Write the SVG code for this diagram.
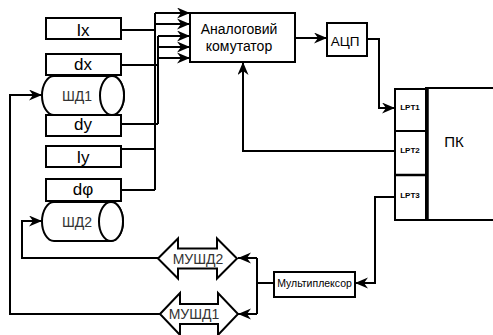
<svg xmlns="http://www.w3.org/2000/svg" width="493" height="335" viewBox="0 0 493 335">
<defs>
<style>
.box{fill:#fff;stroke:#000;stroke-width:2}
.ln{fill:none;stroke:#000;stroke-width:2}
.lbl{font-family:"Liberation Sans",Arial,sans-serif;font-size:17px;fill:#000;text-anchor:middle}
.txt{font-family:"Liberation Sans",Arial,sans-serif;fill:#000;text-anchor:middle}
.gray{fill:#333}
.lpt{font-family:"Liberation Sans",Arial,sans-serif;font-size:8px;font-weight:bold;fill:#000;text-anchor:middle}
</style>
<marker id="ah" markerUnits="userSpaceOnUse" markerWidth="14" markerHeight="12" refX="13" refY="5.5" orient="auto">
<path d="M0,0 L13,5.5 L0,11 L4,5.5 z" fill="#000"/>
</marker>
</defs>
<rect width="493" height="335" fill="#fff"/>

<g id="connectors">
<!-- inputs to bus -->
<polyline class="ln" points="121,30 155,30"/>
<polyline class="ln" points="121,65 158,65"/>
<polyline class="ln" points="121,124 158,124"/>
<polyline class="ln" points="121,149 155,149"/>
<polyline class="ln" points="121,190 155,190"/>
<line class="ln" x1="155" y1="13" x2="155" y2="190"/>
<line class="ln" x1="158" y1="36" x2="158" y2="124"/>
<line class="ln" x1="155" y1="13" x2="190" y2="13" marker-end="url(#ah)"/>
<line class="ln" x1="155" y1="24" x2="190" y2="24" marker-end="url(#ah)"/>
<line class="ln" x1="158" y1="36" x2="190" y2="36" marker-end="url(#ah)"/>
<line class="ln" x1="158" y1="47" x2="190" y2="47" marker-end="url(#ah)"/>
<line class="ln" x1="158" y1="58" x2="190" y2="58" marker-end="url(#ah)"/>
<!-- comm to ADC -->
<line class="ln" x1="295" y1="38" x2="327" y2="38" marker-end="url(#ah)"/>
<!-- ADC to LPT1 -->
<polyline class="ln" points="367,39 379,39 379,108 395,108" marker-end="url(#ah)"/>
<!-- LPT2 to comm -->
<polyline class="ln" points="395,151 243,151 243,62" marker-end="url(#ah)"/>
<!-- LPT3 to mux -->
<polyline class="ln" points="395,197 375,197 375,283 355,283" marker-end="url(#ah)"/>
<!-- mux to MUShD -->
<polyline class="ln" points="274,283 257,283"/>
<line class="ln" x1="257" y1="258" x2="257" y2="314"/>
<line class="ln" x1="257" y1="258" x2="238" y2="258" marker-end="url(#ah)"/>
<line class="ln" x1="257" y1="314" x2="238" y2="314" marker-end="url(#ah)"/>
<!-- feedback to stepper motors -->
<polyline class="ln" points="158,258 22,258 22,221 42,221" marker-end="url(#ah)"/>
<polyline class="ln" points="160,314 10,314 10,95 42,95" marker-end="url(#ah)"/>
</g>

<g id="shd1">
<path class="box" d="M54,76 L112,76 A12,19.5 0 0 1 112,115 L54,115 A12,19.5 0 0 1 54,76 z"/>
<ellipse class="box" cx="112" cy="95.5" rx="12" ry="19.5"/>
<text class="txt gray" x="77" y="101" font-size="14">ШД1</text>
</g>
<g id="shd2">
<path class="box" d="M54,202 L111,202 A12,19.5 0 0 1 111,241 L54,241 A12,19.5 0 0 1 54,202 z"/>
<ellipse class="box" cx="111" cy="221.5" rx="12" ry="19.5"/>
<text class="txt gray" x="77" y="227" font-size="14">ШД2</text>
</g>

<g id="ix"><rect class="box" x="46" y="18" width="75" height="21"/><text class="lbl" x="83" y="36">Ix</text></g>
<g id="dx"><rect class="box" x="46" y="54" width="75" height="21"/><text class="lbl" x="83" y="70">dx</text></g>
<g id="dy"><rect class="box" x="46" y="115" width="75" height="21"/><text class="lbl" x="83" y="130">dy</text></g>
<g id="iy"><rect class="box" x="46" y="146" width="75" height="21"/><text class="lbl" x="83" y="163">Iy</text></g>
<g id="dphi"><rect class="box" x="46" y="179" width="75" height="22"/><text class="lbl" x="83" y="195">dφ</text></g>

<g id="comm">
<rect class="box" x="190" y="13" width="105" height="49"/>
<text class="txt" x="239" y="34" font-size="14">Аналоговий</text>
<text class="txt" x="239" y="51" font-size="14">комутатор</text>
</g>

<g id="adc">
<rect class="box" x="327" y="23" width="40" height="33"/>
<text class="txt" x="345" y="46" font-size="13.5">АЦП</text>
</g>

<g id="pc">
<line class="ln" x1="425" y1="88" x2="493" y2="88"/>
<line class="ln" x1="425" y1="220" x2="493" y2="220"/>
<rect class="box" x="395" y="89" width="31" height="131"/>
<line x1="395" y1="131" x2="426" y2="131" stroke="#000" stroke-width="2"/>
<line x1="395" y1="175" x2="426" y2="175" stroke="#000" stroke-width="2.5"/>
<line x1="427" y1="88" x2="427" y2="221" stroke="#000" stroke-width="3.5"/>
<text class="lpt" x="410" y="110">LPT1</text>
<text class="lpt" x="410" y="153">LPT2</text>
<text class="lpt" x="410" y="198">LPT3</text>
<text class="txt" x="454" y="147" font-size="15">ПК</text>
</g>

<g id="mux">
<rect class="box" x="274" y="272" width="81" height="25"/>
<text class="txt" x="314.5" y="287" font-size="10.5">Мультиплексор</text>
</g>

<g id="mushd2">
<polygon class="box" points="158,258.5 178,238.5 178,248.5 217,248.5 217,238.5 237,258.5 217,278.5 217,268.5 178,268.5 178,278.5"/>
<text class="txt gray" x="198" y="264" font-size="14">МУШД2</text>
</g>
<g id="mushd1">
<polygon class="box" points="160,314 180,293 180,304 218,304 218,293 238,314 218,335 218,324 180,324 180,335"/>
<text class="txt gray" x="194" y="319" font-size="14">МУШД1</text>
</g>
</svg>
